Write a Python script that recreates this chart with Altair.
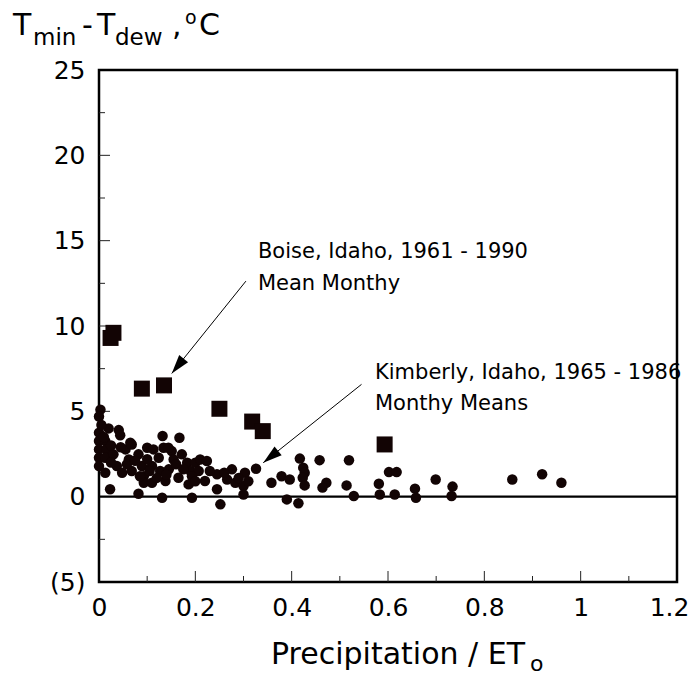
import math
import altair as alt
import pandas as pd

# ---------------- data ----------------
# Kimberly, Idaho, 1965-1986 monthly means (dots)
kim_x = [0.003, 0.0, 0.02, 0.041, 0.044, 0.132, 0.167, 0.0, 0.0, 0.0,
         0.0, 0.0, 0.013, 0.016, 0.013, 0.013, 0.03, 0.037, 0.048, 0.055,
         0.065, 0.062, 0.068, 0.082, 0.089, 0.1, 0.093, 0.093, 0.11, 0.113,
         0.124, 0.134, 0.11, 0.127, 0.145, 0.138, 0.151, 0.155, 0.172, 0.165,
         0.183, 0.19, 0.186, 0.2, 0.21, 0.207, 0.224, 0.22, 0.193, 0.245,
         0.245, 0.252, 0.276, 0.266, 0.283, 0.303, 0.3, 0.3, 0.023, 0.082,
         0.131, 0.193, 0.326, 0.358, 0.379, 0.39, 0.396, 0.417, 0.424, 0.427,
         0.423, 0.427, 0.414, 0.458, 0.472, 0.464, 0.519, 0.514, 0.529, 0.581,
         0.583, 0.602, 0.618, 0.614, 0.656, 0.658, 0.699, 0.734, 0.732, 0.858,
         0.92, 0.96, 0.144, 0.068, 0.025,
         0.005, 0.01, 0.025, 0.045, 0.058, 0.075, 0.085, 0.1, 0.105, 0.12,
         0.14, 0.16, 0.175, 0.2, 0.23, 0.26, 0.29, 0.31]
kim_y = [5.1, 4.7, 4.0, 3.9, 3.6, 3.55, 3.45, 3.75, 3.26, 2.77,
         2.28, 1.79, 3.26, 2.77, 2.28, 1.4, 2.48, 1.8, 1.4, 2.77,
         3.16, 2.18, 1.5, 2.48, 1.8, 2.87, 1.2, 0.82, 0.82, 2.77,
         2.28, 2.87, 1.8, 1.5, 1.6, 0.92, 2.67, 2.18, 2.48, 1.11,
         1.99, 1.5, 0.72, 1.99, 2.18, 1.5, 2.09, 0.92, 1.2, 1.31,
         0.43, -0.45, 1.6, 1.01, 0.82, 1.4, 0.62, 0.13, 0.43, 0.17,
         -0.06, -0.06, 1.64, 0.82, 1.2, -0.16, 1.01, 2.23, 1.7, 1.4,
         1.11, 0.66, -0.39, 2.14, 0.82, 0.53, 2.13, 0.66, 0.04, 0.76,
         0.13, 1.44, 1.44, 0.13, 0.47, -0.06, 1.01, 0.59, 0.04, 1.01,
         1.31, 0.82, 2.87, 3.06, 3.0,
         4.2, 3.5, 2.0, 2.9, 1.9, 2.1, 1.2, 2.2, 1.5, 1.1,
         1.3, 1.9, 1.6, 0.9, 1.5, 1.4, 1.1, 0.9]

# Boise, Idaho, 1961-1990 mean monthly (squares)
boise_x = [0.024, 0.030, 0.089, 0.135, 0.250, 0.318, 0.340, 0.593]
boise_y = [9.3, 9.6, 6.33, 6.52, 5.15, 4.4, 3.84, 3.06]

# axis values
x_label_values = [0, 0.2, 0.4, 0.6, 0.8, 1, 1.2]
y_label_values = [-5, 0, 5, 10, 15, 20, 25]
x_major_ticks = [0.2, 0.4, 0.6, 0.8, 1.0]
x_minor_ticks = [0.1, 0.3, 0.5, 0.7, 0.9, 1.1]
y_major_ticks = [5, 10, 15, 20]
y_minor_ticks = [-2.5, 2.5, 7.5, 12.5, 17.5, 22.5]

# annotations (data coordinates)
ann_text = ["Boise, Idaho, 1961 - 1990", "Mean Monthy",
            "Kimberly, Idaho, 1965 - 1986", "Monthy Means"]
ann_x = [0.330, 0.330, 0.573, 0.573]
ann_y = [14.0, 12.13, 6.92, 5.07]
arrow_x = [0.305, 0.545]
arrow_y = [12.63, 6.58]
arrow_tip_x = [0.151, 0.341]
arrow_tip_y = [7.22, 1.99]

# ---------------- layout / style ----------------
W, H = 578, 512
X_DOMAIN = [0, 1.2]
Y_DOMAIN = [-5, 25]
FONT = "DejaVu Sans"
INK = "#120404"

xs = alt.Scale(domain=X_DOMAIN, nice=False, zero=False)
ys = alt.Scale(domain=Y_DOMAIN, nice=False, zero=False)

x_axis = alt.Axis(values=x_label_values, labelExpr="'' + datum.value",
                  ticks=False, domain=False, grid=False, title=None,
                  labelFont=FONT, labelFontSize=25, labelColor="black",
                  labelPadding=13, labelFlush=False, labelOverlap=False,
                  labelOffset={"condition": {"test": "datum.value >= 1.2", "value": -8},
                               "value": 0})
y_axis = alt.Axis(values=y_label_values,
                  labelExpr="datum.value < 0 ? '(' + (-datum.value) + ')' : '' + datum.value",
                  ticks=False, domain=False, grid=False, title=None,
                  labelFont=FONT, labelFontSize=25, labelColor="black",
                  labelPadding=14, labelFlush=False, labelOverlap=False)

dots = alt.Chart(pd.DataFrame({"x": kim_x, "y": kim_y})).mark_circle(
    size=110, color=INK, opacity=1
).encode(x=alt.X("x:Q", scale=xs, axis=x_axis),
         y=alt.Y("y:Q", scale=ys, axis=y_axis))

squares = alt.Chart(pd.DataFrame({"x": boise_x, "y": boise_y})).mark_square(
    size=256, color=INK, opacity=1
).encode(x=alt.X("x:Q", scale=xs), y=alt.Y("y:Q", scale=ys))

zero_line = alt.Chart(pd.DataFrame({"y": [0]})).mark_rule(
    color="black", strokeWidth=2.2
).encode(y=alt.Y("y:Q", scale=ys))


def x_ticks(vals, length):
    return alt.Chart(pd.DataFrame({"v": vals})).mark_rule(
        color="#222", strokeWidth=1
    ).encode(x=alt.X("v:Q", scale=xs), y=alt.value(H), y2=alt.value(H - length))


def y_ticks(vals, length):
    return alt.Chart(pd.DataFrame({"v": vals})).mark_rule(
        color="#222", strokeWidth=1
    ).encode(y=alt.Y("v:Q", scale=ys), x=alt.value(0), x2=alt.value(length))


ann = alt.Chart(pd.DataFrame({"x": ann_x, "y": ann_y, "t": ann_text})).mark_text(
    align="left", baseline="alphabetic", font=FONT, fontSize=21, color="black"
).encode(x=alt.X("x:Q", scale=xs), y=alt.Y("y:Q", scale=ys), text="t:N")

arrow_df = pd.DataFrame({"x": arrow_x, "y": arrow_y,
                         "x2": arrow_tip_x, "y2": arrow_tip_y})
px_x = W / (X_DOMAIN[1] - X_DOMAIN[0])
px_y = H / (Y_DOMAIN[1] - Y_DOMAIN[0])
arrow_df["ang"] = [
    math.degrees(math.atan2((tx - sx) * px_x, (ty - sy) * px_y)) % 360
    for sx, sy, tx, ty in zip(arrow_x, arrow_y, arrow_tip_x, arrow_tip_y)
]

arrow_lines = alt.Chart(arrow_df).mark_rule(color="black", strokeWidth=1).encode(
    x=alt.X("x:Q", scale=xs), y=alt.Y("y:Q", scale=ys),
    x2="x2:Q", y2="y2:Q")

HEAD = "M0,0 L-0.3,1 L0.3,1 Z"
arrow_heads = alt.Chart(arrow_df).mark_point(
    shape=HEAD, filled=True, size=1444, color="black", opacity=1, strokeWidth=0
).encode(x=alt.X("x2:Q", scale=xs), y=alt.Y("y2:Q", scale=ys),
         angle=alt.Angle("ang:Q", scale=None))

# axis titles with sub/superscripts: (text, dx, dy, fontSize) relative to plot origin
y_title_parts = [("T", -86, -35, 30), ("min", -66, -25, 23), ("-", -17, -35, 30),
                 ("T", -2, -35, 30), ("dew", 16, -25, 23), (",", 73, -35, 30),
                 ("o", 86, -46, 19), ("C", 100, -35, 30)]
x_title_parts = [("Precipitation / ET", 172, H + 82, 30), ("o", 431, H + 89, 22)]

one = pd.DataFrame({"k": [0]})
title_layers = []
for txt, dx, dy, fs in y_title_parts + x_title_parts:
    title_layers.append(
        alt.Chart(one).mark_text(text=txt, align="left", baseline="alphabetic",
                                 font=FONT, fontSize=fs, color="black")
        .encode(x=alt.value(dx), y=alt.value(dy))
    )

chart = alt.layer(
    zero_line,
    x_ticks(x_major_ticks, 11), x_ticks(x_minor_ticks, 6),
    y_ticks(y_major_ticks, 11), y_ticks(y_minor_ticks, 6),
    dots, squares, arrow_lines, arrow_heads, ann, *title_layers
).properties(
    width=W, height=H,
    padding={"left": 91, "top": 62, "right": 13, "bottom": 89},
    autosize=alt.AutoSizeParams(type="none"),
    background="white",
).configure_view(stroke="black", strokeWidth=2.5)

chart.save("out.html", embed_options={"renderer": "svg", "actions": False})
